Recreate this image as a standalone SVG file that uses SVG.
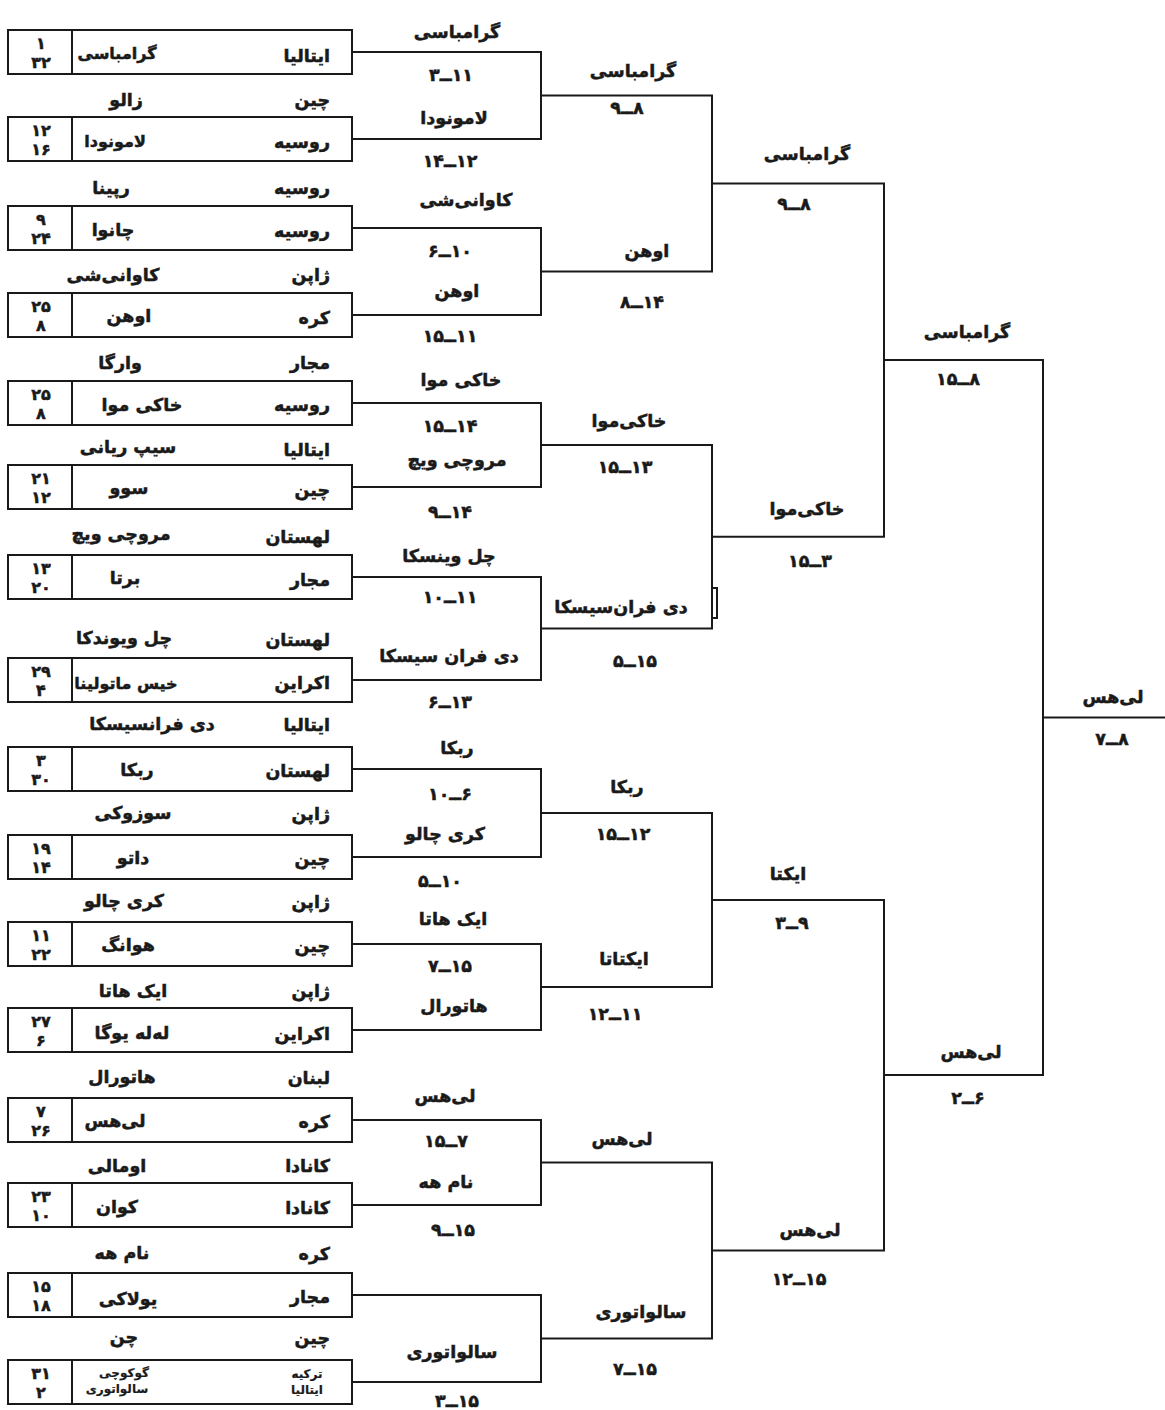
<svg xmlns="http://www.w3.org/2000/svg" width="1165" height="1410" viewBox="0 0 1165 1410">
<style>
text{font-family:"DejaVu Sans",sans-serif;font-weight:bold;font-size:17.5px;fill:#1a1a1a;stroke:#1a1a1a;stroke-width:0.5;text-anchor:middle}
.c{text-anchor:end}
.s{direction:ltr;unicode-bidi:bidi-override}
.n{font-size:16px}
.sm{font-size:12px;stroke-width:0.2}
.nm{font-size:16px}
.bxs{fill:none;stroke:#1a1a1a;stroke-width:2}
#connectors path{fill:none;stroke:#1a1a1a;stroke-width:2}
</style>
<defs>
<g id="bx"><rect class="bxs" x="8" y="0" width="344" height="44"/><line class="bxs" x1="72" y1="0" x2="72" y2="44"/></g>
</defs>
<g id="connectors">
<path d="M352 52H541V139H352"/><path d="M352 228H541V315H352"/><path d="M352 403H541V487H352"/><path d="M352 577H541V680H352"/>
<path d="M352 769H541V857H352"/><path d="M352 944H541V1030H352"/><path d="M352 1120H541V1205H352"/><path d="M352 1295H541V1382H352"/>
<path d="M541 95.5H712V271.5H541"/><path d="M541 445H712V628.5H541"/><path d="M541 813H712V987H541"/><path d="M541 1162.5H712V1338.5H541"/>
<path d="M712 588H717V618H712"/>
<path d="M712 183.5H884V536.75H712"/><path d="M712 900H884V1250.5H712"/>
<path d="M884 360H1043V1075H884"/>
<path d="M1043 717.5H1165"/>
</g>
<g id="box1"><use href="#bx" y="30"/><text x="41" y="49" class="n">۱</text><text x="41" y="68" class="n">۳۲</text><text x="330" y="62" class="c">ایتالیا</text><text x="117" y="59" class="nm">گرامباسی</text></g>
<g id="row1"><text x="330" y="106" class="c">چین</text><text x="126" y="106">زالو</text></g>
<g id="box2"><use href="#bx" y="117"/><text x="41" y="136" class="n">۱۲</text><text x="41" y="155" class="n">۱۶</text><text x="330" y="148" class="c">روسیه</text><text x="115" y="147" class="nm">لامونودا</text></g>
<g id="row2"><text x="330" y="194" class="c">روسیه</text><text x="111" y="194">رپینا</text></g>
<g id="box3"><use href="#bx" y="206"/><text x="41" y="225" class="n">۹</text><text x="41" y="244" class="n">۲۴</text><text x="330" y="237" class="c">روسیه</text><text x="113" y="236">چانوا</text></g>
<g id="row3"><text x="330" y="281" class="c">ژاپن</text><text x="113" y="281">کاوانی‌شی</text></g>
<g id="box4"><use href="#bx" y="293"/><text x="41" y="312" class="n">۲۵</text><text x="41" y="331" class="n">۸</text><text x="330" y="324" class="c">کره</text><text x="129" y="322">اوهن</text></g>
<g id="row4"><text x="330" y="369" class="c">مجار</text><text x="120" y="369">وارگا</text></g>
<g id="box5"><use href="#bx" y="381"/><text x="41" y="400" class="n">۲۵</text><text x="41" y="419" class="n">۸</text><text x="330" y="411" class="c">روسیه</text><text x="142" y="411">خاکی موا</text></g>
<g id="row5"><text x="330" y="456" class="c">ایتالیا</text><text x="128" y="453">سیپ ریانی</text></g>
<g id="box6"><use href="#bx" y="465"/><text x="41" y="484" class="n">۲۱</text><text x="41" y="503" class="n">۱۲</text><text x="330" y="496" class="c">چین</text><text x="129" y="494">سوو</text></g>
<g id="row6"><text x="330" y="543" class="c">لهستان</text><text x="121" y="540">مروچی ویچ</text></g>
<g id="box7"><use href="#bx" y="555"/><text x="41" y="574" class="n">۱۳</text><text x="41" y="593" class="n">۲۰</text><text x="330" y="586" class="c">مجار</text><text x="125" y="584">برتا</text></g>
<g id="row7"><text x="330" y="646" class="c">لهستان</text><text x="124" y="644">چل ویوندکا</text></g>
<g id="box8"><use href="#bx" y="658"/><text x="41" y="677" class="n">۲۹</text><text x="41" y="696" class="n">۴</text><text x="330" y="689" class="c">اکراین</text><text x="126" y="689" class="nm">خیس ماتولینا</text></g>
<g id="row8"><text x="330" y="731" class="c">ایتالیا</text><text x="152" y="730">دی فرانسیسکا</text></g>
<g id="box9"><use href="#bx" y="747"/><text x="41" y="766" class="n">۳</text><text x="41" y="785" class="n">۳۰</text><text x="330" y="777" class="c">لهستان</text><text x="137" y="776">ربکا</text></g>
<g id="row9"><text x="330" y="820" class="c">ژاپن</text><text x="133" y="819">سوزوکی</text></g>
<g id="box10"><use href="#bx" y="835"/><text x="41" y="854" class="n">۱۹</text><text x="41" y="873" class="n">۱۴</text><text x="330" y="865" class="c">چین</text><text x="133" y="864">داتو</text></g>
<g id="row10"><text x="330" y="908" class="c">ژاپن</text><text x="124" y="907">کری چالو</text></g>
<g id="box11"><use href="#bx" y="922"/><text x="41" y="941" class="n">۱۱</text><text x="41" y="960" class="n">۲۲</text><text x="330" y="952" class="c">چین</text><text x="128" y="951">هوانگ</text></g>
<g id="row11"><text x="330" y="997" class="c">ژاپن</text><text x="133" y="997">ایک هاتا</text></g>
<g id="box12"><use href="#bx" y="1008"/><text x="41" y="1027" class="n">۲۷</text><text x="41" y="1046" class="n">۶</text><text x="330" y="1040" class="c">اکراین</text><text x="132" y="1039">له‌له یوگا</text></g>
<g id="row12"><text x="330" y="1084" class="c">لبنان</text><text x="122" y="1083">هاتورال</text></g>
<g id="box13"><use href="#bx" y="1098"/><text x="41" y="1117" class="n">۷</text><text x="41" y="1136" class="n">۲۶</text><text x="330" y="1128" class="c">کره</text><text x="115" y="1127">لی‌هس</text></g>
<g id="row13"><text x="330" y="1172" class="c">کانادا</text><text x="117" y="1172">اومالی</text></g>
<g id="box14"><use href="#bx" y="1183"/><text x="41" y="1202" class="n">۲۳</text><text x="41" y="1221" class="n">۱۰</text><text x="330" y="1214" class="c">کانادا</text><text x="117" y="1213">کوان</text></g>
<g id="row14"><text x="330" y="1260" class="c">کره</text><text x="122" y="1259">نام هه</text></g>
<g id="box15"><use href="#bx" y="1273"/><text x="41" y="1292" class="n">۱۵</text><text x="41" y="1311" class="n">۱۸</text><text x="330" y="1303" class="c">مجار</text><text x="128" y="1305">یولاکی</text></g>
<g id="row15"><text x="330" y="1344" class="c">چین</text><text x="124" y="1343">چن</text></g>
<g id="box16"><use href="#bx" y="1360"/><text x="41" y="1379" class="n">۳۱</text><text x="41" y="1398" class="n">۲</text><text x="307" y="1378" class="sm">ترکیه</text><text x="307" y="1394" class="sm">ایتالیا</text><text x="124" y="1377" class="sm">گوکوچی</text><text x="117" y="1393" class="sm">سالواتوری</text></g>
<g id="round1">
<text x="457" y="38">گرامباسی</text><text x="451" y="81" class="s">۳ــ۱۱</text>
<text x="454" y="124">لامونودا</text><text x="450" y="167" class="s">۱۴ــ۱۲</text>
<text x="466" y="206">کاوانی‌شی</text><text x="450" y="257" class="s">۶ــ۱۰</text>
<text x="457" y="297">اوهن</text><text x="450" y="342" class="s">۱۵ــ۱۱</text>
<text x="461" y="386">خاکی موا</text><text x="450" y="432" class="s">۱۵ــ۱۴</text>
<text x="457" y="466">مروچی ویچ</text><text x="450" y="518" class="s">۹ــ۱۴</text>
<text x="449" y="562">چل وینسکا</text><text x="450" y="603" class="s">۱۰ــ۱۱</text>
<text x="449" y="662">دی فران سیسکا</text><text x="450" y="708" class="s">۶ــ۱۳</text>
<text x="457" y="754">ربکا</text><text x="450" y="800" class="s">۱۰ــ۶</text>
<text x="445" y="840">کری چالو</text><text x="440" y="887" class="s">۵ــ۱۰</text>
<text x="453" y="925">ایک هاتا</text><text x="450" y="972" class="s">۷ــ۱۵</text>
<text x="454" y="1012">هاتورال</text>
<text x="445" y="1102">لی‌هس</text><text x="446" y="1147" class="s">۱۵ــ۷</text>
<text x="446" y="1188">نام هه</text><text x="453" y="1236" class="s">۹ــ۱۵</text>
<text x="452" y="1358">سالواتوری</text><text x="457" y="1407" class="s">۳ــ۱۵</text>
</g>
<g id="round2">
<text x="633" y="77">گرامباسی</text><text x="627" y="114" class="s">۹ــ۸</text>
<text x="647" y="257">اوهن</text><text x="642" y="308" class="s">۸ــ۱۴</text>
<text x="629" y="427">خاکی‌موا</text><text x="625" y="473" class="s">۱۵ــ۱۳</text>
<text x="621" y="613">دی فران‌سیسکا</text><text x="635" y="667" class="s">۵ــ۱۵</text>
<text x="627" y="793">ربکا</text><text x="623" y="840" class="s">۱۵ــ۱۲</text>
<text x="624" y="965">ایکتاتا</text><text x="615" y="1020" class="s">۱۲ــ۱۱</text>
<text x="622" y="1145">لی‌هس</text>
<text x="641" y="1318">سالواتوری</text><text x="635" y="1375" class="s">۷ــ۱۵</text>
</g>
<g id="round3">
<text x="807" y="160">گرامباسی</text><text x="794" y="210" class="s">۹ــ۸</text>
<text x="807" y="515">خاکی‌موا</text><text x="810" y="567" class="s">۱۵ــ۳</text>
<text x="788" y="880">ایکتا</text><text x="792" y="929" class="s">۳ــ۹</text>
<text x="810" y="1236">لی‌هس</text><text x="799" y="1285" class="s">۱۲ــ۱۵</text>
</g>
<g id="round4">
<text x="967" y="338">گرامباسی</text><text x="958" y="385" class="s">۱۵ــ۸</text>
<text x="971" y="1058">لی‌هس</text><text x="968" y="1104" class="s">۲ــ۶</text>
</g>
<g id="final">
<text x="1113" y="703">لی‌هس</text><text x="1112" y="745" class="s">۷ــ۸</text>
</g>
</svg>
